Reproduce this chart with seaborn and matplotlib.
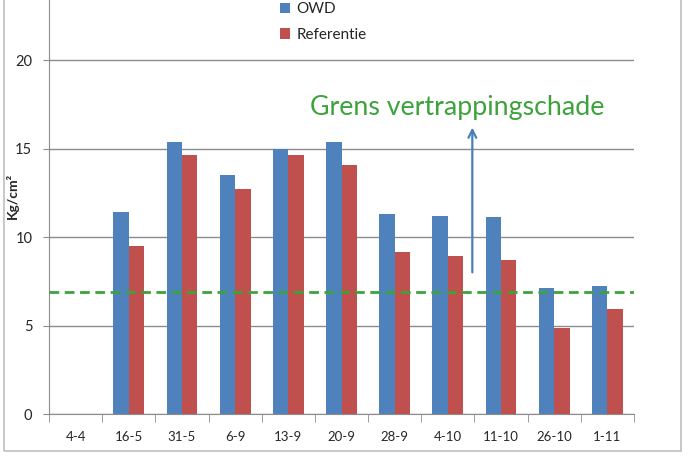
import matplotlib
matplotlib.use("Agg")
import matplotlib.pyplot as plt
import matplotlib.patches as mpatches
import seaborn as sns
import pandas as pd
import numpy as np

# data
datums = ["4-4", "16-5", "31-5", "6-9", "13-9", "20-9", "28-9", "4-10", "11-10", "26-10", "1-11"]
owd = [np.nan, 11.4, 15.4, 13.5, 15.0, 15.35, 11.3, 11.2, 11.15, 7.1, 7.25]
referentie = [np.nan, 9.5, 14.65, 12.7, 14.65, 14.05, 9.15, 8.95, 8.7, 4.85, 5.95]
grens = 6.9
pijl_van, pijl_tot = 7.85, 16.35

df = pd.DataFrame({
    "datum": datums * 2,
    "waarde": owd + referentie,
    "reeks": ["OWD"] * len(datums) + ["Referentie"] * len(datums),
})

sns.set_style("white")
plt.rcParams["font.family"] = ["Lato", "DejaVu Sans"]

fig = plt.figure(figsize=(6.88, 4.59), dpi=100)
ax = fig.add_axes([49 / 688, 1 - 414 / 459, 585 / 688, 414 / 459])

sns.barplot(data=df, x="datum", y="waarde", hue="reeks", order=datums,
            palette={"OWD": "#4F81BD", "Referentie": "#C0504D"},
            saturation=1, width=0.58, errorbar=None, ax=ax,
            edgecolor="none")

ax.set_xlim(-0.5, len(datums) - 0.5)
ax.set_ylim(0, 23.4)
ax.set_yticks([0, 5, 10, 15, 20])
ax.yaxis.grid(True, color="#8c8c8c", lw=1)
ax.set_axisbelow(True)

# threshold line and arrow
ax.axhline(grens, color="#3CA33C", lw=2, ls=(0, (3.5, 2)), zorder=5)
ax.annotate("", xy=(7.46, pijl_tot), xytext=(7.46, pijl_van),
            arrowprops=dict(arrowstyle="->", color="#4A7EBB", lw=1.6,
                            mutation_scale=14))
ax.text(4.41, 17.3, "Grens vertrappingschade", color="#3CA33C",
        fontsize=19.3, va="center", ha="left")

# axes styling, Excel look
for s in ["top", "right"]:
    ax.spines[s].set_visible(False)
ax.spines["left"].set_color("#8c8c8c")
ax.spines["bottom"].set_color("#8c8c8c")
ax.tick_params(axis="y", which="major", length=4, color="#8c8c8c",
               labelsize=10.5, pad=8, direction="out", left=True)
ax.tick_params(axis="x", which="major", length=0, labelsize=9.5, pad=12)
ax.set_xticks(np.arange(-0.5, len(datums)), minor=True)
ax.tick_params(axis="x", which="minor", length=6, color="#8c8c8c",
               direction="out", bottom=True)
ax.set_xlabel("")
ax.set_ylabel("")
fig.text(12 / 688, 1 - 196 / 459, "Kg/cm²", rotation=90, fontsize=10,
         fontweight="bold", ha="center", va="center")

handles, labels = ax.get_legend_handles_labels()
ax.legend(handles, labels, loc="upper left", bbox_to_anchor=(266 / 688, 1.025),
          bbox_transform=fig.transFigure, frameon=False, fontsize=11,
          handlelength=0.7, handleheight=0.7, handletextpad=0.4,
          labelspacing=0.75)

# chart area border
fig.patches.append(mpatches.Rectangle((4 / 688, 1 - 451 / 459), 677 / 688, 460 / 459,
                                      transform=fig.transFigure, fill=False,
                                      edgecolor="#bfbfbf", lw=1.2))

fig.savefig("out.png", dpi=100)
